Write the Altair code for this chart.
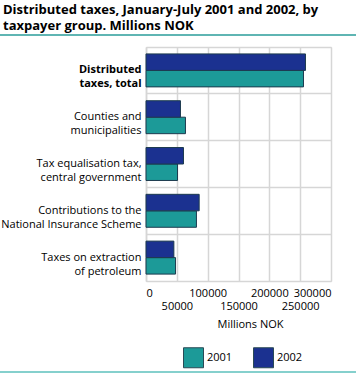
import altair as alt
import pandas as pd

categories = [
    "Distributed\u00a0|taxes, total",
    "Counties and\u00a0|municipalities",
    "Tax equalisation tax,\u00a0|central government",
    "Contributions to the\u00a0|National Insurance Scheme",
    "Taxes on extraction\u00a0|of petroleum",
]
values_2001 = [255400, 64000, 51100, 81800, 47900]
values_2002 = [258600, 55900, 60800, 86200, 45200]
years = ["2001", "2002"]
x_ticks = [0, 50000, 100000, 150000, 200000, 250000, 300000]

rows = []
for c, v1, v2 in zip(categories, values_2001, values_2002):
    rows.append({"cat": c, "year": "2001", "value": v1})
    rows.append({"cat": c, "year": "2002", "value": v2})
df = pd.DataFrame(rows)

FONT = "Open Sans"
TEAL = "#1c9a98"
BLUE = "#1b3190"
GRID = "#d6d6d6"

bars = alt.Chart(df).mark_bar(stroke="#1d3b4f", strokeWidth=1).encode(
    x=alt.X(
        "value:Q",
        scale=alt.Scale(domain=[0, 300000], nice=False),
        axis=alt.Axis(
            values=x_ticks,
            format="d",
            labelExpr="datum.value % 100000 == 0 ? datum.label : ['', datum.label]",
            labelOverlap=False,
            labelLineHeight=13,
            labelBaseline="top",
            labelPadding=6,
            labelFont=FONT,
            labelFontSize=11,
            labelColor="#000",
            ticks=False,
            grid=True,
            gridColor=GRID,
            gridWidth=1.5,
            domainColor=GRID,
            domainWidth=1.5,
            title="Millions NOK",
            titleFont=FONT,
            titleFontSize=11,
            titleFontWeight="normal",
            titleColor="#000",
            titleX=104,
            titleY=43,
            titleBaseline="middle",
        ),
    ),
    y=alt.Y(
        "cat:N",
        sort=categories,
        scale=alt.Scale(paddingInner=0, paddingOuter=0),
        axis=alt.Axis(
            title=None,
            labelExpr="split(datum.label, '|')",
            labelFont=FONT,
            labelFontSize=11,
            labelColor="#000",
            labelLineHeight=14,
            labelPadding=5,
            labelFontWeight={
                "condition": {"test": "indexof(datum.value, 'Distributed') == 0", "value": "bold"},
                "value": "normal",
            },
            labelLimit=200,
            ticks=False,
            grid=True,
            bandPosition=0,
            gridColor=GRID,
            gridWidth=1.5,
            domainColor=GRID,
            domainWidth=1.5,
        ),
    ),
    yOffset=alt.YOffset(
        "year:N",
        sort=["2002", "2001"],
        scale=alt.Scale(paddingOuter=0.42, paddingInner=0),
    ),
    color=alt.Color(
        "year:N",
        scale=alt.Scale(domain=years, range=[TEAL, BLUE]),
        legend=alt.Legend(
            title=None,
            orient="none",
            legendX=37,
            legendY=300,
            direction="horizontal",
            symbolType="square",
            symbolSize=400,
            symbolStrokeColor="#2a4a55",
            symbolStrokeWidth=1,
            symbolOpacity=1,
            labelFont=FONT,
            labelFontSize=11,
            labelColor="#000",
            labelOffset=3,
            columnPadding=18,
            padding=0,
        ),
    ),
)

rule_top = alt.Chart(alt.Data(values=[{}])).mark_rule(color="#2a9d9a", strokeWidth=1.5).encode(
    x=alt.value(-146), x2=alt.value(210), y=alt.value(-12)
)
rule_bottom = alt.Chart(alt.Data(values=[{}])).mark_rule(color="#5cc0bd", strokeWidth=1.5).encode(
    x=alt.value(-146), x2=alt.value(210), y=alt.value(325)
)

chart = alt.layer(bars, rule_top, rule_bottom).properties(
    width=185,
    height=234,
    padding={"left": 146, "top": 47, "right": 25, "bottom": 93},
    autosize=alt.AutoSizeParams(type="none"),
    title=alt.TitleParams(
        text=["Distributed taxes, January-July 2001 and 2002, by", "taxpayer group. Millions NOK"],
        anchor="start",
        frame="group",
        dx=-143,
        dy=17,
        offset=18,
        font=FONT,
        fontSize=13,
        fontWeight="bold",
        color="#000",
        lineHeight=16,
    ),
).configure_view(stroke=None).configure(background="white")

chart.save("out.html", embed_options={"renderer": "svg", "actions": False})
